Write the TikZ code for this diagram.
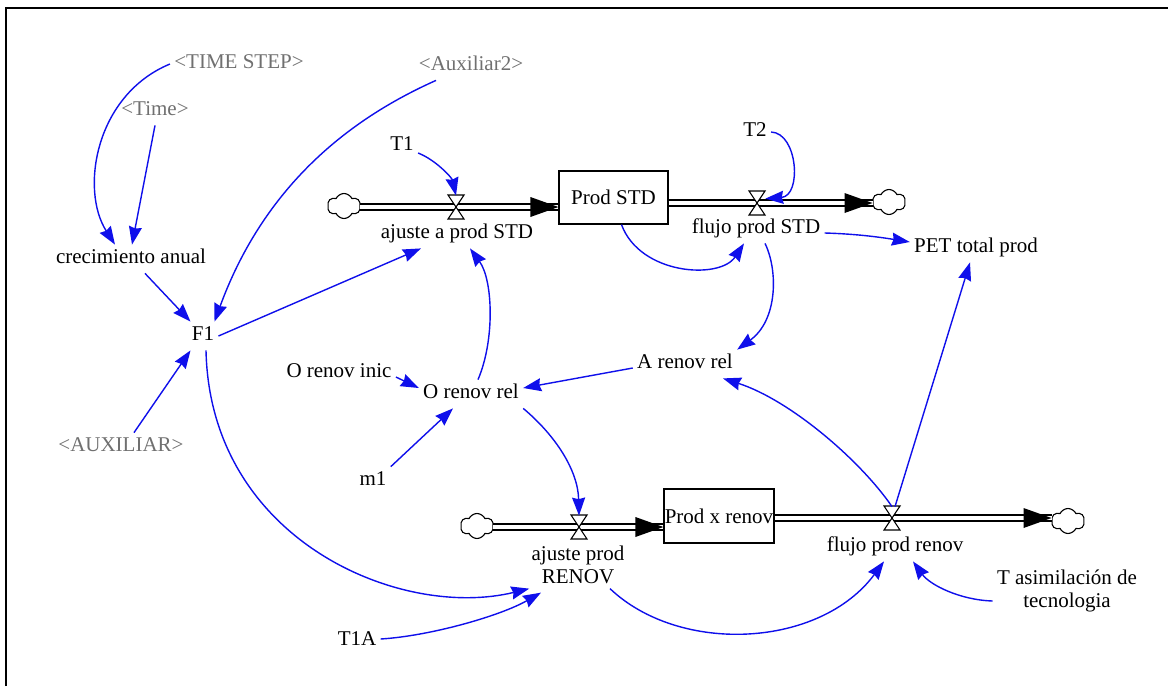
\documentclass[tikz,border=0pt]{standalone}
\usepackage{fontspec}
\setmainfont{Liberation Serif}
\usetikzlibrary{arrows.meta,shapes.symbols}
\definecolor{linkblue}{RGB}{15,15,235}
\definecolor{shadowgray}{RGB}{112,112,112}
\newcommand\varfont{\fontsize{10.5}{11.8}\selectfont}

\begin{document}
\begin{tikzpicture}[x=0.5pt,y=-0.5pt,
  var/.style={font=\varfont, inner sep=2pt, text height=7.4pt, text depth=2.6pt},
  shadow/.style={var, text=shadowgray},
  twoline/.style={font=\varfont, inner sep=2pt, align=center},
  stock/.style={draw, fill=white, line width=0.6pt, font=\varfont, minimum width=54.5pt, minimum height=26.5pt, inner sep=0pt},
  valvebox/.style={inner sep=0pt, minimum width=8pt, minimum height=11pt},
  sourcecloud/.style={cloud, cloud puffs=6, cloud puff arc=130, aspect=1.3, draw, fill=white, line width=0.55pt, inner sep=0pt, minimum width=16.5pt, minimum height=12.5pt},
  pipe/.style={draw, line width=0.8pt, double=white, double distance=2.3pt},
  link/.style={draw=linkblue, line width=0.7pt, -{Stealth[length=9pt,width=6.5pt,inset=0.8pt]}},
  valve/.pic={\draw[fill=white, line width=0.55pt] (-4pt,6pt) -- (4pt,6pt) -- (-4pt,-6pt) -- (4pt,-6pt) -- cycle;},
  pipetip/.pic={\fill (0pt,0pt) -- (-14pt,5pt) -- (-14pt,-5pt) -- cycle;}
]
% canvas and frame
\useasboundingbox (0,0) rectangle (1168,686);
\fill[white] (0,0) rectangle (1168,686);
\draw[line width=1.25pt] (6,686) -- (6,8) -- (1168,8);

% stocks
\node[stock] (PS) at (613.5,197.5) {Prod STD};
\node[stock, minimum width=55pt, minimum height=27pt] (PR) at (719,516) {Prod x renov};

% sources and sinks
\node[sourcecloud] (cl1) at (344,206) {};
\node[sourcecloud] (cl2) at (889,202) {};
\node[sourcecloud] (cl3) at (477,526) {};
\node[sourcecloud] (cl4) at (1068,521) {};

% valves
\node[valvebox] (v1) at (456,207) {};
\node[valvebox] (v2) at (757,203) {};
\node[valvebox] (v3) at (579,527) {};
\node[valvebox] (v4) at (892,518) {};

% variables
\node[shadow] (TS)  at (239,64)  {<TIME STEP>};
\node[shadow] (Tm)  at (155,111) {<Time>};
\node[shadow] (Ax2) at (471,66)  {<Auxiliar2>};
\node[shadow] (Aux) at (121,447) {<AUXILIAR>};
\node[var] (T1)   at (402,146) {T1};
\node[var] (T2)   at (755,132) {T2};
\node[var] (cre)  at (131,259) {crecimiento anual};
\node[var] (F1)   at (203,336) {F1};
\node[var] (lbl1) at (457,234) {ajuste a prod STD};
\node[var] (lbl2) at (756,229) {flujo prod STD};
\node[var] (PET)  at (976,248) {PET total prod};
\node[var] (ARR)  at (685,364) {A renov rel};
\node[var] (ORi)  at (339,373) {O renov inic};
\node[var] (ORR)  at (471,394) {O renov rel};
\node[var] (m1)   at (373,481) {m1};
\node[twoline] (lbl3) at (578,565) {ajuste prod\\RENOV};
\node[var] (lbl4) at (895,547) {flujo prod renov};
\node[twoline] (Tas) at (1067,591) {T asimilación de\\tecnologia};
\node[var] (T1A)  at (357,641) {T1A};

% pipes
\draw[pipe] (cl1.east |- v1) -- (v1 -| PS.west);
\draw[pipe] (PS.east |- v2) -- (v2 -| cl2.west);
\draw[pipe] (cl3.east |- v3) -- (v3 -| PR.west);
\draw[pipe] (PR.east |- v4) -- (v4 -| cl4.west);
\pic at (v1 -| PS.west) {pipetip};
\pic at (v2 -| cl2.west) {pipetip};
\pic at (v3 -| PR.west) {pipetip};
\pic at (v4 -| cl4.west) {pipetip};
\pic at (v1) {valve};
\pic at (v2) {valve};
\pic at (v3) {valve};
\pic at (v4) {valve};

% information links
\draw[link] (TS.west) .. controls (95,95) and (80,190) .. ([xshift=-8pt]cre.north);
\draw[link] (Tm.south) -- ([xshift=0.5pt]cre.north);
\draw[link] ([xshift=7pt]cre.south) -- ([xshift=1.5pt]F1.north west);
\draw[link] ([xshift=-17.5pt]Ax2.south) .. controls (370,110) and (270,170) .. ([xshift=-2pt]F1.north east);
\draw[link] ([xshift=6.5pt]Aux.north) -- ([xshift=1.5pt]F1.south west);
\draw[link] (F1.east) -- ([xshift=-18pt]lbl1.south);
\draw[link] ([yshift=-3.5pt]T1.east) .. controls (436,160) and (452,178) .. (v1.north);
\draw[link] (T2.east) .. controls (798,133) and (802,196) .. ([yshift=-3.5pt]v2.north east);
\draw[link] ([xshift=4pt]PS.south) .. controls (640,275) and (720,280) .. ([xshift=-6pt]lbl2.south);
\draw[link] ([yshift=-2pt]lbl2.east) .. controls (860,234) and (885,238) .. ([yshift=3pt]PET.west);
\draw[link] ([xshift=4.5pt]lbl2.south) .. controls (778,270) and (778,320) .. (ARR.north east);
\draw[link] (v4.north) .. controls (860,460) and (790,400) .. ([xshift=19pt]ARR.south);
\draw[link] ([xshift=1.5pt]v4.north) -- ([xshift=-3pt]PET.south);
\draw[link] ([yshift=-2pt]ARR.west) -- ([yshift=3pt]ORR.east);
\draw[link] ([yshift=-2pt]ORi.east) -- ([yshift=3pt]ORR.west);
\draw[link] (m1.north east) -- ([xshift=-9pt]ORR.south);
\draw[link] ([xshift=3.5pt]ORR.north) .. controls (495,340) and (493,280) .. ([xshift=6.5pt]lbl1.south);
\draw[link] (ORR.south east) .. controls (555,435) and (578,470) .. (v3.north);
\draw[link] ([xshift=1.5pt]F1.south) .. controls (210,540) and (400,620) .. ([xshift=1pt]lbl3.south west);
\draw[link] ([yshift=1pt]T1A.east) .. controls (430,636) and (500,616) .. ([xshift=-18.5pt,yshift=-2pt]lbl3.south);
\draw[link] ([xshift=16pt]lbl3.south) .. controls (680,655) and (820,648) .. ([xshift=-5.5pt]lbl4.south);
\draw[link] ([yshift=-5pt]Tas.west) .. controls (960,600) and (930,585) .. ([xshift=9pt]lbl4.south);
\end{tikzpicture}
\end{document}
